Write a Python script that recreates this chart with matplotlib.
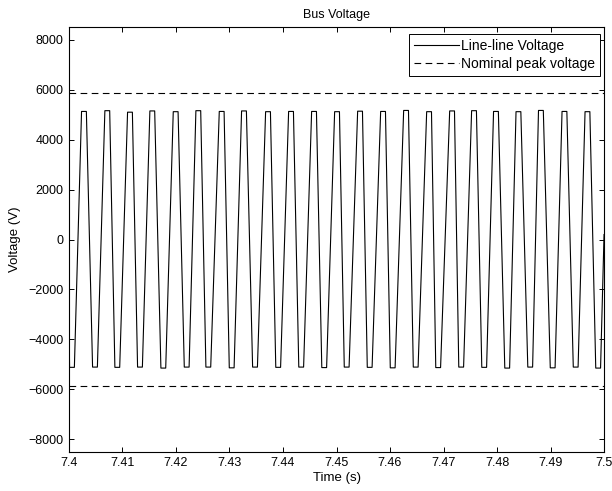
import matplotlib
matplotlib.use("Agg")
import matplotlib.pyplot as plt
import numpy as np

plt.rcParams['font.family'] = ['Liberation Sans', 'DejaVu Sans']

# ---- data ----
t0 = 7.4
# centres of positive peaks (s after 7.4) and their levels (V)
peak_t = [0.0028, 0.00716, 0.0114, 0.01557, 0.01994, 0.02417, 0.02854, 0.03271,
          0.0372, 0.0415, 0.0458, 0.0501, 0.0544, 0.0587, 0.0630, 0.0673,
          0.0716, 0.0757, 0.0798, 0.0840, 0.0882, 0.0926, 0.0969]
peak_v = [5130, 5160, 5100, 5150, 5120, 5160, 5130, 5150,
          5120, 5130, 5130, 5120, 5140, 5130, 5170, 5120,
          5150, 5160, 5130, 5120, 5170, 5130, 5120]
# centres of negative troughs (s after 7.4) and their levels (V)
trough_t = [0.00056, 0.00486, 0.00903, 0.01327, 0.01763, 0.0220, 0.02604, 0.03041,
            0.03477, 0.0391, 0.0434, 0.0477, 0.0519, 0.0562, 0.0605, 0.0648,
            0.0690, 0.0733, 0.0776, 0.0819, 0.0862, 0.0904, 0.0947, 0.0989]
trough_v = [-5120, -5110, -5120, -5110, -5150, -5110, -5110, -5140,
            -5110, -5120, -5110, -5130, -5110, -5120, -5140, -5110,
            -5130, -5110, -5120, -5150, -5110, -5140, -5110, -5150]
start_v = -3100
end_v = 200
nominal_peak = 5883

legend_labels = ['Line-line Voltage', 'Nominal peak voltage']
title = 'Bus Voltage'
xlabel = 'Time (s)'
ylabel = 'Voltage (V)'
xticks = [7.4, 7.41, 7.42, 7.43, 7.44, 7.45, 7.46, 7.47, 7.48, 7.49, 7.5]
xticklabels = ['7.4', '7.41', '7.42', '7.43', '7.44', '7.45', '7.46', '7.47', '7.48', '7.49', '7.5']
yticks = [-8000, -6000, -4000, -2000, 0, 2000, 4000, 6000, 8000]

# ---- build the waveform polyline from the extrema (flat tops/bottoms) ----
half_flat = 0.00045
ext = sorted([(t, v) for t, v in zip(peak_t, peak_v)] +
             [(t, v) for t, v in zip(trough_t, trough_v)])
ts = [0.0]
vs = [start_v]
for t, v in ext:
    for tt in (t - half_flat, t + half_flat):
        if 0 <= tt <= 0.1:
            ts.append(tt)
            vs.append(v)
ts.append(0.1)
vs.append(end_v)
ts = t0 + np.array(ts)

fig = plt.figure(figsize=(6.12, 4.91), dpi=100)
ax = fig.add_axes([0.1127, 0.080, 0.8743, 0.8644])

ax.plot(ts, vs, color='black', lw=0.8, label=legend_labels[0])
ax.plot([7.4, 7.5], [nominal_peak, nominal_peak], color='black', lw=0.8,
        linestyle=(0, (6, 4)), label=legend_labels[1])
ax.plot([7.4, 7.5], [-nominal_peak, -nominal_peak], color='black', lw=0.8,
        linestyle=(0, (6, 4)))

ax.set_xlim(7.4, 7.5)
ax.set_ylim(-8500, 8500)
ax.set_xticks(xticks)
ax.set_xticklabels(xticklabels)
ax.set_yticks(yticks)
ax.tick_params(direction='in', length=3.5, width=0.7, labelsize=9,
               top=True, right=True, pad=4)
for s in ax.spines.values():
    s.set_linewidth(0.8)

ax.set_title(title, fontsize=9, pad=7)
ax.set_xlabel(xlabel, fontsize=9.5, labelpad=2)
ax.set_ylabel(ylabel, fontsize=9.5, labelpad=5)

leg = ax.legend(loc='upper right', bbox_to_anchor=(0.993, 0.985), fontsize=10,
                frameon=True, fancybox=False, framealpha=1, edgecolor='black',
                handlelength=3.3, handletextpad=0.15, borderaxespad=0,
                borderpad=0.35, labelspacing=0.3)
leg.get_frame().set_linewidth(0.7)

fig.savefig('out.png', dpi=100)
